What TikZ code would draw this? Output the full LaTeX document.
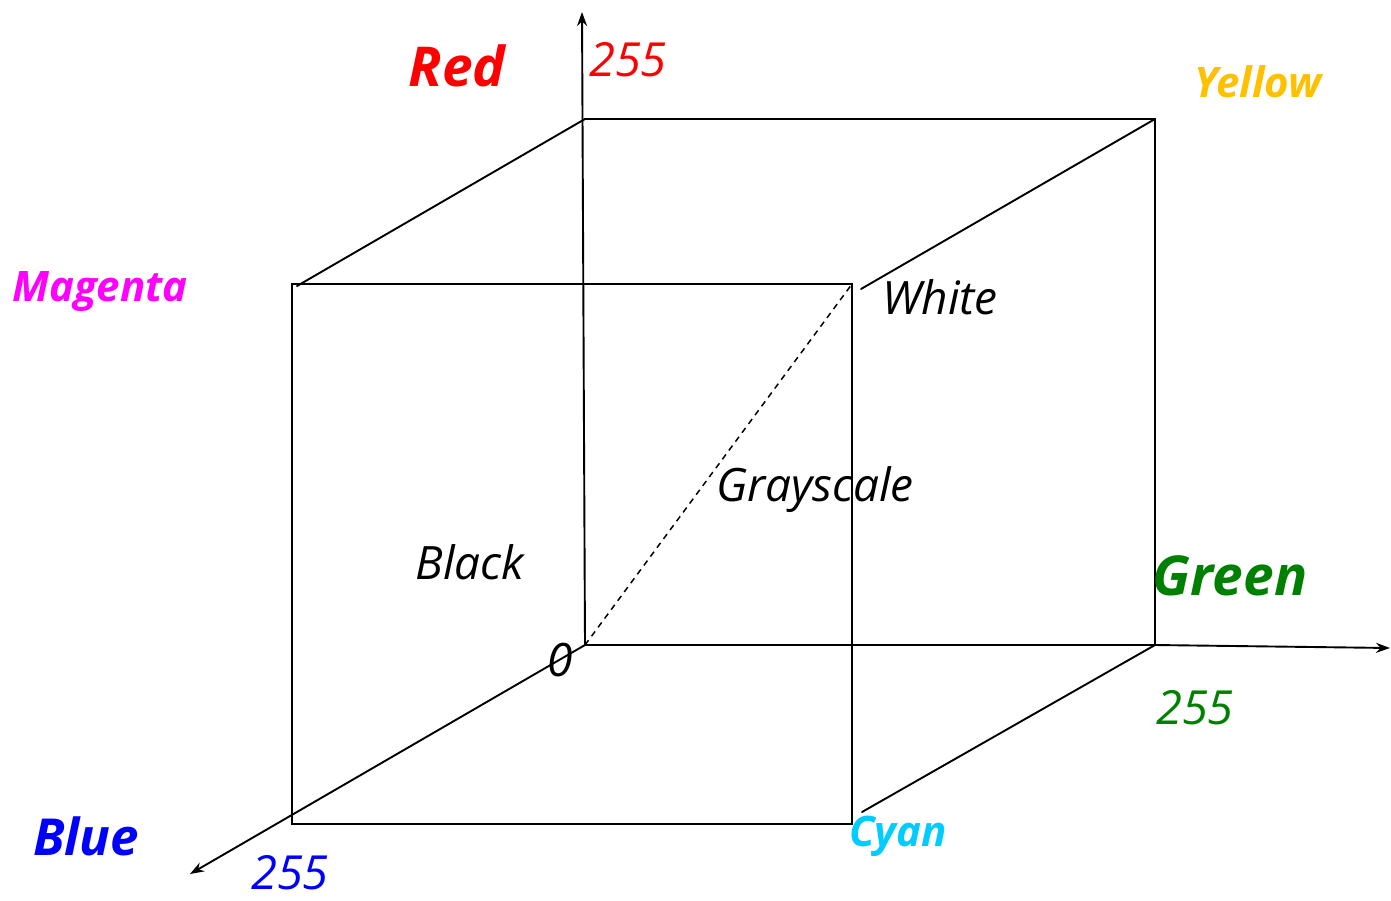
\documentclass[tikz,border=0pt]{standalone}
\usepackage{fontspec}
\setmainfont{Open Sans}
\usetikzlibrary{arrows.meta}
\definecolor{redc}{RGB}{255,0,0}
\definecolor{yellowc}{RGB}{255,192,0}
\definecolor{magentac}{RGB}{255,0,255}
\definecolor{greenc}{RGB}{0,128,0}
\definecolor{bluec}{RGB}{0,0,255}
\definecolor{cyanc}{RGB}{0,204,255}
\begin{document}
\begin{tikzpicture}[x=1pt,y=-1pt,
  edge/.style={line width=1.9pt,line cap=round},
  axis/.style={line width=1.9pt,-{Stealth[length=14pt,width=10pt]}},
  lbl/.style={inner sep=0pt,font=\fontsize{46}{48}\selectfont\itshape},
  blbl/.style={inner sep=0pt,font=\fontsize{55}{57}\selectfont\bfseries\itshape},
  slbl/.style={inner sep=0pt,font=\fontsize{42}{44}\selectfont\bfseries\itshape},
  num/.style={inner sep=0pt,font=\fontsize{47}{49}\selectfont\itshape}]
\useasboundingbox (0,0) rectangle (1391,900);
% back face
\coordinate (O) at (585,645);
\coordinate (R) at (585,119);
\coordinate (Y) at (1155,119);
\coordinate (G) at (1155,645);
% front face
\coordinate (M) at (292,284);
\coordinate (W) at (852,284);
\coordinate (C) at (852,824);
\coordinate (B) at (292,824);
% diagonal stubs
\coordinate (Mr) at (297,286);
\coordinate (Wy) at (861,289);
\coordinate (Cg) at (862,812);
% axis ends
\coordinate (Rtip) at (582,12);
\coordinate (Gtip) at (1390,648);
\coordinate (Btip) at (190,874);

\draw[edge] (R) -- (Y) -- (G) -- (O);
\draw[edge] (M) -- (W) -- (C) -- (B) -- cycle;
\draw[edge] (R) -- (Mr);
\draw[edge] (Y) -- (Wy);
\draw[edge] (G) -- (Cg);
\draw[axis] (O) -- (Rtip);
\draw[axis] (G) -- (Gtip);
\draw[axis] (O) -- (Btip);
\draw[line width=1.5pt,dash pattern=on 6pt off 5pt] (O) -- (W);

\node[blbl,text=redc] (lred) at (457,66) {Red};
\node[num,text=redc] (lr255) at (628,60) {255};
\node[slbl,text=yellowc] (lyellow) at (1258,82) {Yellow};
\node[slbl,text=magentac] (lmagenta) at (100,292) {Magenta};
\node[lbl] (lwhite) at (940,297) {White};
\node[lbl] (lgray) at (815,490) {Grayscale};
\node[lbl] (lblack) at (470,562) {Black};
\node[blbl,text=greenc] (lgreen) at (1230,576) {Green};
\node[num,text=greenc] (lg255) at (1195,708) {255};
\node[lbl] (lzero) at (560,660) {0};
\node[blbl,text=bluec,font=\fontsize{51}{53}\selectfont\bfseries\itshape] (lblue) at (86,836) {Blue};
\node[num,text=bluec] (lb255) at (290,873) {255};
\node[slbl,text=cyanc] (lcyan) at (898,836) {Cyan};
\end{tikzpicture}
\end{document}
